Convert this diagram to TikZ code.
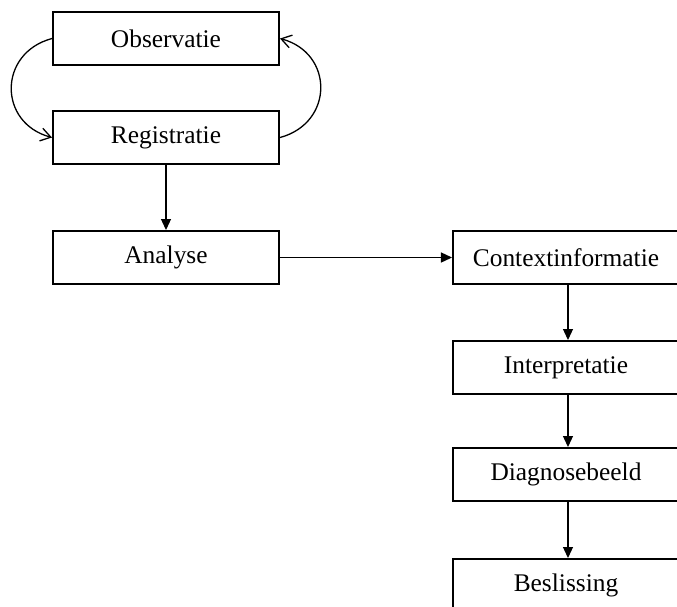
\documentclass[tikz,border=0pt]{standalone}
\usepackage{fontspec}
\setmainfont{Liberation Serif}
\usetikzlibrary{positioning,arrows.meta}

\begin{document}
\begin{tikzpicture}[x=0.5pt,y=-0.5pt]
    \tikzstyle{stap}=[rectangle,draw,line width=1pt,minimum width=113pt,minimum height=26.5pt,inner sep=0pt,font=\fontsize{12.7}{15}\selectfont]
    \tikzstyle{pijl}=[line width=0.65pt,-{Triangle[length=5.5pt,width=5pt]}]
    \tikzstyle{lus}=[line width=0.65pt,-{Straight Barb[length=5pt,width=6.5pt]}]
    \useasboundingbox (0,0) rectangle (677,607);
    \node[stap] (obs) at (166,38.5) {Observatie};
    \node[stap,below=22pt of obs] (reg) {Registratie};
    \node[stap,below=32.5pt of reg] (ana) {Analyse};
    \node[stap,right=86pt of ana] (ctx) {Contextinformatie};
    \node[stap,below=27.5pt of ctx] (int) {Interpretatie};
    \node[stap,below=26pt of int] (diag) {Diagnosebeeld};
    \node[stap,below=28pt of diag] (besl) {Beslissing};
    % lussen tussen observatie en registratie
    \draw[lus] (obs.west) to[out=195,in=165,looseness=1.45] (reg.west);
    \draw[lus] (reg.east) to[out=15,in=-15,looseness=1.45] (obs.east);
    % doorgaande stappen
    \draw[pijl] (reg) -- (ana);
    \draw[pijl] (ana) -- (ctx);
    \draw[pijl] ([xshift=1pt]ctx.south) -- ([xshift=1pt]int.north);
    \draw[pijl] ([xshift=1pt]int.south) -- ([xshift=1pt]diag.north);
    \draw[pijl] ([xshift=1pt]diag.south) -- ([xshift=1pt]besl.north);
\end{tikzpicture}
\end{document}
